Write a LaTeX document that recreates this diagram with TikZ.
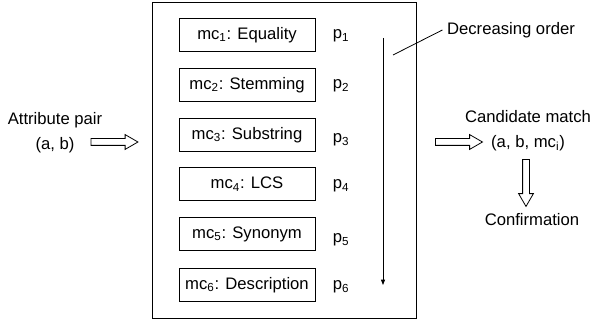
\documentclass[tikz,border=0pt]{standalone}
\usepackage{fontspec}
\setmainfont{Liberation Sans}
\usetikzlibrary{shapes.arrows,arrows.meta}

\begin{document}
\begin{tikzpicture}[x=0.75pt,y=-0.75pt,font=\fontsize{12.5}{18.5}\selectfont,
  matcher/.style={draw,line width=0.6pt,minimum width=102pt,minimum height=24.75pt,inner sep=0pt},
  fatarrow/.style={single arrow,draw,line width=0.6pt,inner xsep=0pt,inner ysep=2.25pt,
    single arrow head extend=3pt,single arrow tip angle=60,minimum height=35.25pt}]
\useasboundingbox (0,0) rectangle (592,324);
\draw[line width=0.7pt] (152,2) rectangle (416,318);

\node[matcher] (mc1) at (247,35) {mc\textsubscript{1}: Equality};
\node[matcher] (mc2) at (247,85) {mc\textsubscript{2}: Stemming};
\node[matcher] (mc3) at (247,135) {mc\textsubscript{3}: Substring};
\node[matcher] (mc4) at (247,184) {mc\textsubscript{4}: LCS};
\node[matcher] (mc5) at (247,234) {mc\textsubscript{5}: Synonym};
\node[matcher] (mc6) at (247,285) {mc\textsubscript{6}: Description};

\node (p1) at (341,36) {p\textsubscript{1}};
\node (p2) at (341,86) {p\textsubscript{2}};
\node (p3) at (341,140) {p\textsubscript{3}};
\node (p4) at (341,186) {p\textsubscript{4}};
\node (p5) at (341,240) {p\textsubscript{5}};
\node (p6) at (341,287) {p\textsubscript{6}};

\coordinate (top) at (383,38);
\coordinate (bottom) at (383,285);
\draw[line width=0.6pt,-{Triangle[length=4pt,width=3pt]}] (top) -- (bottom);

\node (order) at (511,30) {Decreasing order};
\coordinate (hook) at (393,55);
\draw[line width=0.6pt] (hook) -- (order.west);

\node[align=center] (pair) at (55,133) {Attribute pair\\(a, b)};
\node[fatarrow] (inarrow) at (111.5,142) {};

\node[align=center] (cand) at (528,131) {Candidate match\\(a, b, mc\textsubscript{i})};
\node[fatarrow] (outarrow) at (456,142) {};
\node[fatarrow,shape border rotate=270,inner xsep=2.25pt,inner ysep=0pt] (downarrow) at (526,180) {};
\node (confirm) at (532,220) {Confirmation};
\end{tikzpicture}
\end{document}
